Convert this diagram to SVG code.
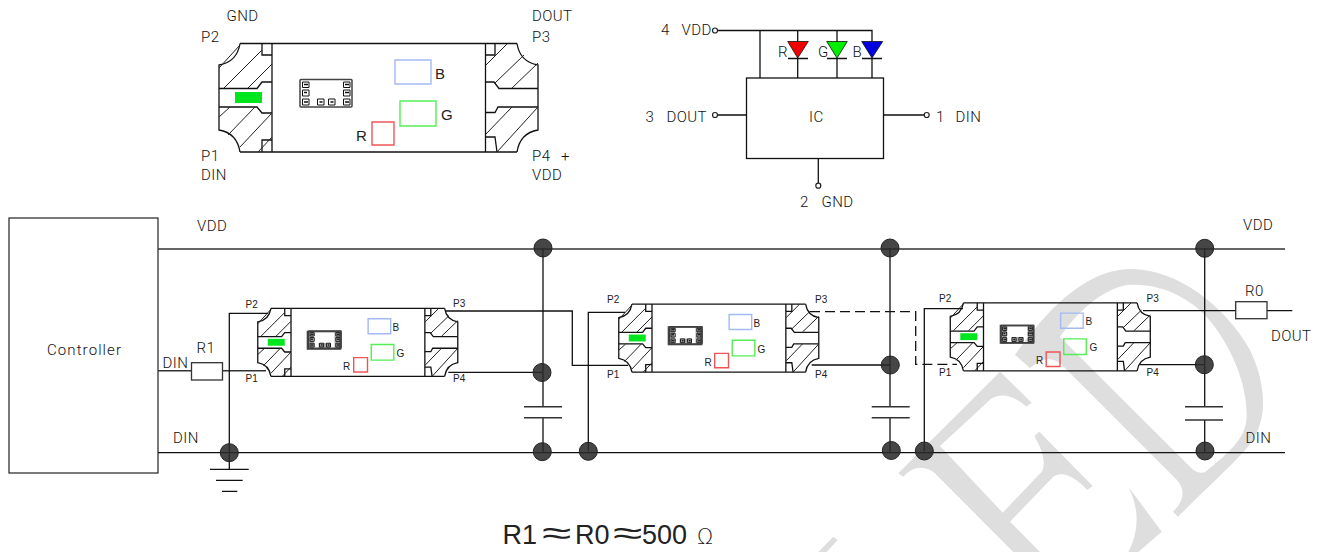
<svg xmlns="http://www.w3.org/2000/svg" xmlns:xlink="http://www.w3.org/1999/xlink" width="1321" height="552" viewBox="0 0 1321 552">
<style>
.t{font-family:Roboto,"DejaVu Sans",sans-serif;font-weight:300;font-size:15px;letter-spacing:.4px;fill:#111}
.s{font-family:"Liberation Sans",Arial,sans-serif;font-size:10px;fill:#222}
.l{font-family:"Liberation Sans",Arial,sans-serif;font-size:15px;fill:#222}
.f{font-family:"Liberation Sans",Arial,sans-serif;font-size:27px;fill:#222}
.a{font-family:"DejaVu Sans",sans-serif;font-size:28px;font-weight:200;fill:#222}
.w{fill:none;stroke:#333;stroke-width:1.4}
.k{fill:none;stroke:#111;stroke-width:1.3}
.dash{stroke-dasharray:10 5}
.p{fill:none;stroke:#111;stroke-width:1.3;vector-effect:non-scaling-stroke}
.h{fill:none;stroke:#222;stroke-width:1;vector-effect:non-scaling-stroke}
.pad{fill:#fff;stroke:#111;stroke-width:1;vector-effect:non-scaling-stroke}
.dot{fill:#2b2b2b;fill-opacity:.87;stroke:#222;stroke-width:1}
.pin{fill:#fff;stroke:#222;stroke-width:1.2}
.cs{fill:#333;fill-opacity:.4}
.cb{fill:none;stroke:#444;stroke-width:1.6}
</style>
<defs>
<g id="pkg">
<path class="p" d="M240,43.500H517M240,152H517M272,43.500V152M485.500,43.500V152"/>
<path class="p" d="M240,43.500Q237,62 219,65V130Q237,133 240,152M517,43.500Q520,62 538,65V130Q520,133 517,152"/>
<path class="p" d="M219,88.500H257L262,82H272M219,107H257L262,113H272M262,43.500V55H272M262,152V140H272"/>
<path class="p" d="M485.500,82H494L499,88.500H538M485.500,112.500H495L498,107H538M495,43.500V55H485.500M485.500,137H495L497,152"/>
<path class="h" d="M224,88L262,50M248,88L272,64M219,68L240,45M219,117L230,107M228,135L255,107M240,147L272,113M258,152L272,137"/>
<path class="h" d="M486,65L507,44M495,83L524,55M512,88L538,63M486,134L512,107M497,152L538,107"/>
<rect x="235" y="92" width="27" height="11" fill="#00e61e"/>
<rect x="395" y="60" width="36" height="24" fill="none" stroke="#a4baf2" stroke-width="1.400" vector-effect="non-scaling-stroke"/>
<rect x="400" y="101" width="36" height="25" fill="none" stroke="#55ee55" stroke-width="1.400" vector-effect="non-scaling-stroke"/>
<rect x="372" y="122" width="22" height="23" fill="none" stroke="#f05555" stroke-width="1.400" vector-effect="non-scaling-stroke"/>
<rect x="300" y="79.500" width="52" height="27.500" rx="1" fill="none" stroke="#444" stroke-width="1.500" vector-effect="non-scaling-stroke"/>
<rect class="pad" x="302.500" y="82" width="6.500" height="5.500"/><rect class="pad" x="302.500" y="90" width="6.500" height="6"/><rect class="pad" x="302.500" y="99" width="6.500" height="6"/>
<rect class="pad" x="343.500" y="82" width="6.500" height="5.500"/><rect class="pad" x="343.500" y="90" width="6.500" height="6"/><rect class="pad" x="343.500" y="99" width="6.500" height="6"/>
<rect class="pad" x="317.500" y="99" width="6.500" height="6"/><rect class="pad" x="328.500" y="99" width="6.500" height="6"/>
<path d="M304,84.500h4M304,92.500h3M304,102h4M345,84.500h4M345,92.500h4M345,102h4M319.500,102h3M330.500,102h3" stroke="#111" stroke-width="1.500" fill="none" vector-effect="non-scaling-stroke"/>
</g>
<g id="chipmark">
<rect class="cb" x="0" y="0" width="33" height="17.500"/>
<rect class="cs" x="0" y="0" width="6" height="17.500"/><rect class="cs" x="27" y="0" width="6" height="17.500"/><rect class="cs" x="11" y="11.500" width="12" height="6"/>
</g>
</defs>

<g id="watermark" fill="#dedede">
<path fill-rule="evenodd" d="M1015,355C1040,320 1080,270 1130,269C1175,268 1225,305 1250,350C1262,375 1268,405 1258,430C1250,450 1230,465 1178,516.700L1173,511.700Q1190,495 1176.700,479.700L1062,365Q1048,352 1030,368ZM1060,337L1191.700,468.400Q1198,474 1205,472.300C1225,455 1247,440 1246.700,415C1247,385 1232,345 1205,315C1180,290 1150,283 1126.700,285C1100,290 1075,315 1060,337Z"/>
<path d="M898.300,473.300L1000,371.700L1031.700,402.700L1026.700,406.700Q1006.700,390 991.700,398.300L940,446L1002.700,512.700L1041.700,471.700Q1048.300,460 1034.300,436L1039.300,431.700L1092.700,486L1087.300,490Q1066.700,468.300 1053.300,476.700L1010,521.700L1040,552H1013.300L933.300,471.700Q916.700,461.700 903.300,476.700Z"/>
<path d="M1128.300,486.700L1161.700,531.700L1138.300,552H1128.300Q1145,520 1128.300,486.700Z"/>
<path d="M818.300,552L833.300,536.700L837.700,540L826.700,552Z"/>
</g>

<g id="package-top">
<use xlink:href="#pkg" href="#pkg"/>
<text class="t" x="226.500" y="21">GND</text><text class="t" x="201" y="41.500">P2</text>
<text class="t" x="532" y="21">DOUT</text><text class="t" x="532" y="41.500">P3</text>
<text class="t" x="201" y="160.500">P1</text><text class="t" x="201" y="180">DIN</text>
<text class="t" y="160.500"><tspan x="532">P4</tspan><tspan x="561">+</tspan></text><text class="t" x="532" y="180">VDD</text>
<text class="l" x="435" y="79">B</text><text class="l" x="441" y="120">G</text><text class="l" x="356" y="141">R</text>
</g>

<g id="ic-schematic">
<rect class="k" x="746.500" y="78" width="137" height="80.500"/>
<path class="k" d="M717.500,30.500H872V41.500M760,30.500V78M797.700,30.500V42M837,30.500V42M797.700,58V78M837,58V78M872,58V78M717.500,115H746.500M883.500,115H924M818.300,158.500V183"/>
<polygon points="787.700,41.500 808.300,41.500 797.700,58" fill="#f00000" stroke="#111" stroke-width=".8"/>
<polygon points="826.700,41.500 847.300,41.500 837,58" fill="#00ee00" stroke="#111" stroke-width=".8"/>
<polygon points="861.700,41.500 882.700,41.500 872,58" fill="#0000e0" stroke="#111" stroke-width=".8"/>
<path class="k" d="M788,58.500H808M827,58.500H847M862,58.500H882"/>
<circle class="pin" cx="715" cy="30.500" r="2.500"/><circle class="pin" cx="715" cy="115" r="2.500"/><circle class="pin" cx="926.700" cy="115" r="2.500"/><circle class="pin" cx="818.300" cy="185.700" r="2.500"/>
<text class="t" x="661" y="35">4</text><text class="t" x="681.500" y="35">VDD</text>
<text class="t" x="645.500" y="121.500">3</text><text class="t" x="666.500" y="121.500">DOUT</text>
<text class="t" x="936" y="121.500">1</text><text class="t" x="955.500" y="121.500">DIN</text>
<text class="t" x="809" y="122">IC</text>
<text class="t" x="800" y="206.500">2</text><text class="t" x="821.500" y="206.500">GND</text>
<text class="t" x="778" y="57">R</text><text class="t" x="818" y="57">G</text><text class="t" x="852.500" y="57">B</text>
</g>

<g id="controller">
<rect x="9" y="218" width="149" height="255" fill="none" stroke="#222" stroke-width="1.200"/>
<text class="t" x="47" y="355" style="letter-spacing:1.1px">Controller</text>
</g>

<g id="connectors">
<path class="w" d="M158,249H1285"/>
<path class="k" d="M158,452.700H1285"/>
<path class="w" d="M158,370.700H191.500M222.500,370.700H266"/>
<path class="k" d="M229.300,452V313.300H268M448.300,372.300H542M446,311H572.300V365.400H628M588.300,451V312.300H625M811.700,365H890M924.300,451V308.700H963M1143,310.700H1235.700M1267,310.700H1292.300M1140,364.700H1204"/>
<path class="k dash" d="M810,311.700H915.700V364.300H957"/>
<path class="k" d="M543,248V406.700M543,417.700V452M890,248V406.700M890,417.700V452M1204.700,248V406.700M1204.700,420V452"/>
<path class="w" d="M524,406.700H562M524,417.700H562M871.700,406.700H909.700M871.700,417.700H909.700M1185,406.700H1223M1185,420H1223"/>
<path class="k" d="M229.300,452V469M210,469.300H248.700M216,480.300H242.700M222,491.300H237.300"/>
<rect x="191.500" y="362.700" width="31" height="17.300" fill="#fff" stroke="#333" stroke-width="1.300"/>
<rect x="1235.700" y="301.700" width="31.300" height="17" fill="#fff" stroke="#333" stroke-width="1.300"/>
<circle class="dot" cx="543" cy="248" r="9"/><circle class="dot" cx="542" cy="372.500" r="9"/><circle class="dot" cx="542.300" cy="451.700" r="9"/>
<circle class="dot" cx="229.300" cy="452.700" r="9"/><circle class="dot" cx="588.300" cy="451.300" r="9"/>
<circle class="dot" cx="890" cy="248" r="9"/><circle class="dot" cx="890.300" cy="365" r="9"/><circle class="dot" cx="891.300" cy="450.500" r="9"/>
<circle class="dot" cx="924.300" cy="451" r="9"/>
<circle class="dot" cx="1204.700" cy="248.300" r="9"/><circle class="dot" cx="1204.300" cy="364.700" r="9"/><circle class="dot" cx="1205" cy="451" r="9"/>
<text class="t" x="197" y="231">VDD</text><text class="t" x="1243" y="230">VDD</text>
<text class="t" x="173" y="443">DIN</text><text class="t" x="1245.500" y="442.700">DIN</text>
<text class="t" x="162.500" y="368">DIN</text><text class="t" x="196.500" y="353">R1</text>
<text class="t" x="1245" y="296">R0</text><text class="t" x="1271" y="340.500">DOUT</text>
</g>

<g id="package-1">
<use xlink:href="#pkg" href="#pkg" transform="translate(291,308.300) scale(.627) translate(-272,-43.300)"/>
<use xlink:href="#chipmark" href="#chipmark" x="307.500" y="331.500"/>
<text class="s" x="245.500" y="307.500">P2</text><text class="s" x="245.500" y="382">P1</text><text class="s" x="453" y="307">P3</text><text class="s" x="453" y="382">P4</text>
<text class="s" x="392.500" y="331">B</text><text class="s" x="396.500" y="357">G</text><text class="s" x="343" y="370">R</text>
</g>
<g id="package-2">
<use xlink:href="#pkg" href="#pkg" transform="translate(652,304) scale(.627) translate(-272,-43.300)"/>
<use xlink:href="#chipmark" href="#chipmark" x="668.500" y="327"/>
<text class="s" x="607" y="303.300">P2</text><text class="s" x="607" y="377.700">P1</text><text class="s" x="815" y="303">P3</text><text class="s" x="815" y="378">P4</text>
<text class="s" x="753.500" y="326.500">B</text><text class="s" x="757.500" y="352.500">G</text><text class="s" x="704.500" y="365.500">R</text>
</g>
<g id="package-3">
<use xlink:href="#pkg" href="#pkg" transform="translate(983.500,302.700) scale(.627) translate(-272,-43.300)"/>
<use xlink:href="#chipmark" href="#chipmark" x="1000.500" y="325.500"/>
<text class="s" x="939" y="301.700">P2</text><text class="s" x="939" y="376">P1</text><text class="s" x="1146.500" y="301.500">P3</text><text class="s" x="1146.500" y="376">P4</text>
<text class="s" x="1085.500" y="325">B</text><text class="s" x="1089.500" y="351">G</text><text class="s" x="1036" y="364">R</text>
</g>

<g id="formula">
<text class="f" x="502.500" y="544">R1</text>
<text class="a" transform="translate(542,544) scale(1.9,1.15)">≈</text>
<text class="f" x="575" y="544">R0</text>
<text class="a" transform="translate(613,544) scale(1.9,1.15)">≈</text>
<text class="f" x="642" y="544">500</text>
<text class="a" x="697" y="544" style="font-size:21px">Ω</text>
</g>
</svg>
